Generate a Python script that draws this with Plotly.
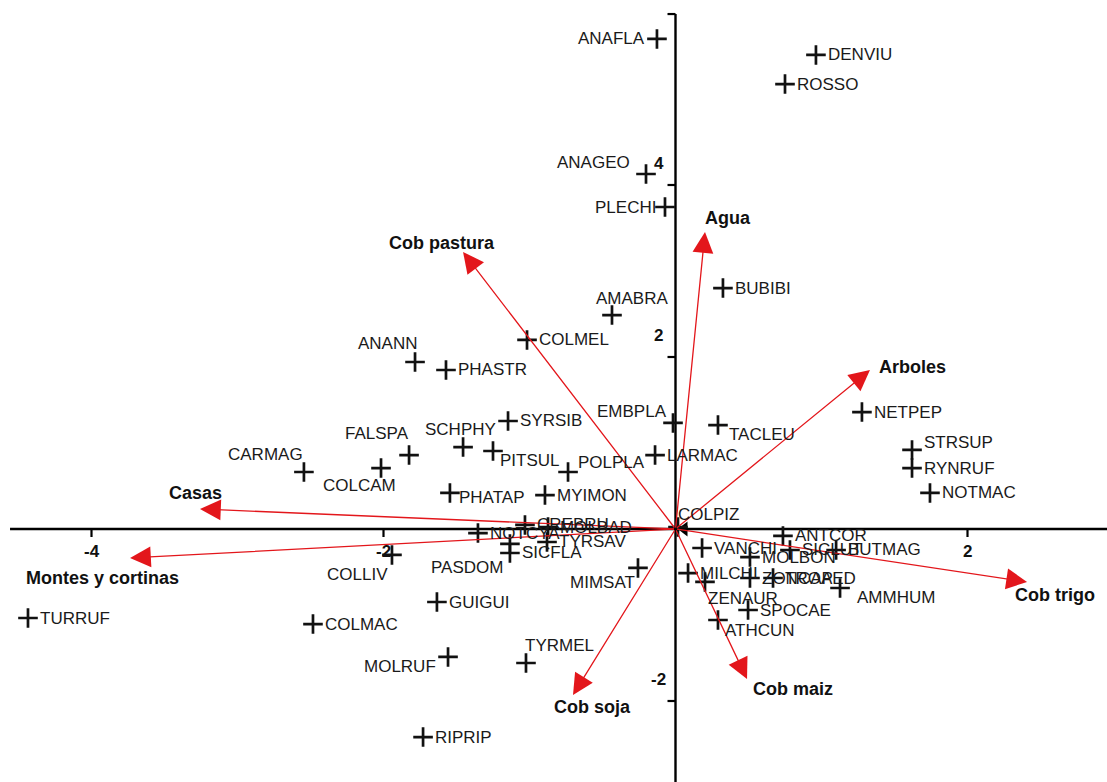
import plotly.graph_objects as go

# Species scores (biplot coordinates)
species = [
    "ANAFLA", "DENVIU", "ROSSO", "ANAGEO", "PLECHI", "BUBIBI", "AMABRA", "COLMEL",
    "ANANN", "PHASTR", "EMBPLA", "TACLEU", "LARMAC", "SYRSIB", "SCHPHY", "PITSUL",
    "FALSPA", "COLCAM", "CARMAG", "PHATAP", "MYIMON", "POLPLA", "COLPIZ", "ANTCOR",
    "SICLUT", "BUTMAG", "VANCHI", "MOLBON", "MILCHI", "ZENAUR", "ZONCAP", "TROAED",
    "AMMHUM", "SPOCAE", "ATHCUN", "MIMSAT", "NOTCYA", "CREBRU", "MOLBAD", "TYRSAV",
    "SICFLA", "PASDOM", "COLLIV", "GUIGUI", "COLMAC", "MOLRUF", "TYRMEL", "RIPRIP",
    "TURRUF", "NETPEP", "STRSUP", "RYNRUF", "NOTMAC",
]
sp_x = [
    -0.127, 0.962, 0.750, -0.202, -0.072, 0.325, -0.435, -1.017,
    -1.784, -1.572, -0.017, 0.291, -0.140, -1.147, -1.455, -1.250,
    -1.825, -2.017, -2.545, -1.545, -0.894, -0.736, 0.017, 0.736,
    0.784, 1.100, 0.182, 0.510, 0.086, 0.202, 0.510, 0.668,
    1.127, 0.497, 0.291, -0.257, -1.353, -1.031, -0.873, -0.880,
    -1.134, -1.134, -1.942, -1.634, -2.483, -1.558, -1.024, -1.729,
    -4.435, 1.277, 1.620, 1.620, 1.743,
]
sp_y = [
    5.698, 5.512, 5.174, 4.128, 3.744, 2.802, 2.488, 2.198,
    1.942, 1.849, 1.233, 1.209, 0.860, 1.256, 0.953, 0.907,
    0.860, 0.709, 0.663, 0.419, 0.395, 0.663, 0.023, -0.081,
    -0.244, -0.244, -0.221, -0.326, -0.512, -0.616, -0.570, -0.570,
    -0.686, -0.942, -1.058, -0.453, -0.047, 0.047, 0.023, -0.151,
    -0.279, -0.174, -0.302, -0.849, -1.105, -1.488, -1.558, -2.419,
    -1.035, 1.360, 0.919, 0.709, 0.419,
]

# Environmental variable vectors
variables = ["Agua", "Cob pastura", "Arboles", "Casas", "Montes y cortinas",
             "Cob trigo", "Cob maiz", "Cob soja"]
var_x = [0.202, -1.455, 1.332, -3.257, -3.736, 2.408, 0.490, -0.702]
var_y = [3.453, 3.221, 1.849, 0.233, -0.337, -0.616, -1.744, -1.930]

# Axis ticks
x_ticks = [-4, -2, 2]
y_ticks = [4, 2, -2]

# Label placement (pixel offsets of the label centre / anchor from the point)
R = ("left", 10, 0)     # text to the right
L = ("right", -10, 0)   # text to the left
label_pos = {
    "ANAFLA": L, "PLECHI": ("right", -7, 0), "ANAGEO": ("right", -14, 11),
    "AMABRA": ("center", 20, 17), "ANANN": ("center", -27, 18),
    "EMBPLA": ("center", -41, 11), "TACLEU": ("center", 44, -9),
    "SCHPHY": ("center", -3, 18), "PITSUL": ("center", 37, -9),
    "FALSPA": ("center", -32, 22), "COLCAM": ("center", -22, -17),
    "CARMAG": ("center", -38, 17), "PHATAP": ("center", 42, -5),
    "POLPLA": ("center", 43, 9), "COLPIZ": ("center", 31, 13),
    "ZENAUR": ("center", 38, -17), "AMMHUM": ("left", 15, -10),
    "ATHCUN": ("center", 42, -11), "MIMSAT": ("center", -35, -15),
    "PASDOM": ("center", -43, -24), "COLLIV": ("center", -34, -20),
    "MOLRUF": ("center", -48, -10), "TYRMEL": ("center", 34, 17),
    "STRSUP": ("left", 10, 7),
}

# Vector label offsets (pixels from arrow tip)
var_label_off = {
    "Agua": (23, 14), "Cob pastura": (-21, 9), "Arboles": (43, 3),
    "Casas": (-4, 16), "Montes y cortinas": (-28, -20), "Cob trigo": (28, -13),
    "Cob maiz": (46, -10), "Cob soja": (19, -12),
}

X_RANGE = [-4.6267, 2.9555]
Y_RANGE = [-2.9419, 6.1512]
FONT = "Liberation Sans, Arial, sans-serif"
RED = "#e3161b"

fig = go.Figure()

# Axes drawn through the origin
fig.add_shape(type="line", x0=-4.558, x1=X_RANGE[1], y0=0, y1=0,
              line=dict(color="black", width=2.4), layer="below")
fig.add_shape(type="line", x0=0, x1=0, y0=Y_RANGE[0], y1=5.988,
              line=dict(color="black", width=2.4), layer="below")
fig.add_shape(type="line", xsizemode="pixel", xanchor=0, x0=-8, x1=0,
              y0=5.988, y1=5.988, line=dict(color="black", width=2.2))
for t in x_ticks:
    fig.add_shape(type="line", ysizemode="pixel", yanchor=0, y0=0, y1=-8,
                  x0=t, x1=t, line=dict(color="black", width=2.2))
    fig.add_annotation(x=t, y=0, text=f"<b>{t}</b>", showarrow=False,
                       yshift=-22, font=dict(family=FONT, size=17, color="#111"))
for t in y_ticks:
    fig.add_shape(type="line", xsizemode="pixel", xanchor=0, x0=-8, x1=0,
                  y0=t, y1=t, line=dict(color="black", width=2.2))
    fig.add_annotation(x=0, y=t, text=f"<b>{t}</b>", showarrow=False,
                       xshift=-17, yshift=22,
                       font=dict(family=FONT, size=17, color="#111"))

# Vectors
for name, vx, vy in zip(variables, var_x, var_y):
    fig.add_annotation(x=vx, y=vy, ax=0, ay=0, axref="x", ayref="y",
                       xref="x", yref="y", text="", showarrow=True,
                       arrowhead=2, arrowsize=3.2, arrowwidth=1.3,
                       arrowcolor=RED)
    dx, dy = var_label_off[name]
    fig.add_annotation(x=vx, y=vy, text=f"<b>{name}</b>", showarrow=False,
                       xshift=dx, yshift=dy,
                       font=dict(family=FONT, size=18, color="#111"))

# Small black arrowhead at the origin
fig.add_trace(go.Scatter(
    x=[0.06], y=[0.0], mode="markers",
    marker=dict(symbol="triangle-left", size=13, color="black"),
    hoverinfo="skip", showlegend=False,
))

# Species markers
fig.add_trace(go.Scatter(
    x=sp_x, y=sp_y, mode="markers",
    marker=dict(symbol="cross-thin", size=14,
                line=dict(color="#111", width=2.7)),
    hoverinfo="text", text=species, showlegend=False,
))

# Species labels
for name, sx, sy in zip(species, sp_x, sp_y):
    anchor, dx, dy = label_pos.get(name, R)
    fig.add_annotation(x=sx, y=sy, text=name, showarrow=False,
                       xanchor=anchor, yanchor="middle",
                       xshift=dx, yshift=dy,
                       font=dict(family=FONT, size=17, color="#1a1a1a"))

fig.update_layout(
    width=1107, height=782,
    margin=dict(l=0, r=0, t=0, b=0),
    paper_bgcolor="white", plot_bgcolor="white",
    xaxis=dict(range=X_RANGE, visible=False, fixedrange=True),
    yaxis=dict(range=Y_RANGE, visible=False, fixedrange=True),
    showlegend=False,
)

fig.write_html("out.html")
